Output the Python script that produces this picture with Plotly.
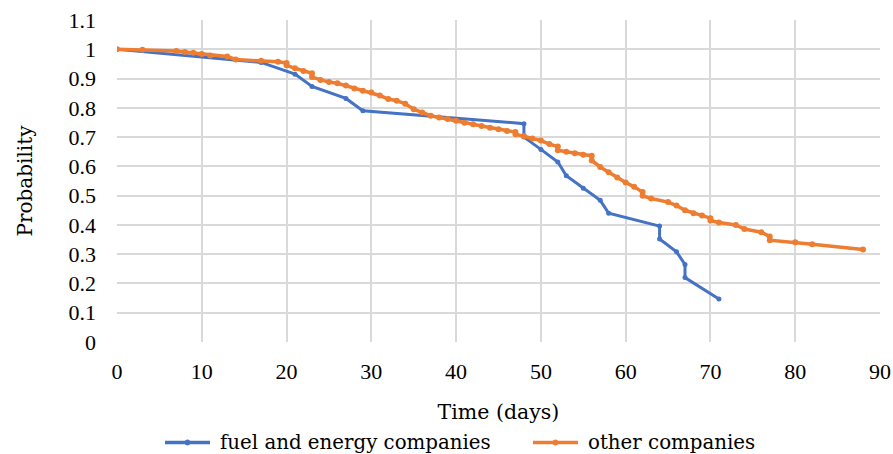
import plotly.graph_objects as go

# Data
fuel_days = [0, 17, 21, 23, 27, 29, 48, 48, 50, 52, 53, 55, 57, 58, 64, 64, 66, 67, 67, 71]
fuel_prob = [1.0, 0.955, 0.915, 0.873, 0.832, 0.79, 0.746, 0.70, 0.658, 0.615, 0.568, 0.525,
             0.484, 0.44, 0.396, 0.352, 0.308, 0.265, 0.22, 0.147]

other_days = [0, 3, 7, 8, 9, 10, 11, 13, 14, 17, 19, 20, 20, 21, 22, 23, 23, 24, 25, 26, 27,
              28, 29, 30, 31, 32, 33, 34, 35, 36, 37, 38, 39, 40, 41, 42, 43, 44, 45, 46, 47,
              47, 48, 49, 50, 51, 52, 52, 53, 54, 55, 56, 56, 57, 58, 59, 60, 61, 62, 62, 63,
              65, 66, 67, 68, 69, 70, 70, 71, 73, 74, 76, 77, 77, 80, 82, 88]
other_prob = [1.0, 0.998, 0.994, 0.991, 0.988, 0.984, 0.979, 0.975, 0.965, 0.961, 0.957, 0.953,
              0.945, 0.935, 0.926, 0.918, 0.905, 0.895, 0.888, 0.884, 0.876, 0.866, 0.858,
              0.852, 0.842, 0.830, 0.824, 0.814, 0.795, 0.784, 0.773, 0.767, 0.762, 0.756,
              0.749, 0.744, 0.738, 0.732, 0.727, 0.721, 0.717, 0.710, 0.704, 0.695, 0.688,
              0.676, 0.668, 0.655, 0.650, 0.645, 0.640, 0.636, 0.620, 0.598, 0.580, 0.562,
              0.545, 0.530, 0.512, 0.500, 0.490, 0.478, 0.466, 0.450, 0.440, 0.432, 0.423,
              0.415, 0.408, 0.400, 0.386, 0.375, 0.360, 0.348, 0.341, 0.334, 0.316]

series_names = ["fuel and energy companies", "other companies"]

x_ticks = [0, 10, 20, 30, 40, 50, 60, 70, 80, 90]
y_ticks = [0, 0.1, 0.2, 0.3, 0.4, 0.5, 0.6, 0.7, 0.8, 0.9, 1.0, 1.1]
y_tick_labels = ["0", "0.1", "0.2", "0.3", "0.4", "0.5", "0.6", "0.7", "0.8", "0.9", "1", "1.1"]

TICK_FONT = "Liberation Serif"
TEXT_FONT = "DejaVu Serif"
BLUE = "#4472C4"
ORANGE = "#ED7D31"
GRID = "#D9D9D9"
colors = [BLUE, ORANGE]

fig = go.Figure()
fig.add_trace(go.Scatter(
    x=fuel_days, y=fuel_prob, mode="lines+markers", name=series_names[0],
    line=dict(color=BLUE, width=3), marker=dict(color=BLUE, size=5, symbol="circle"),
    showlegend=False,
))
fig.add_trace(go.Scatter(
    x=other_days, y=other_prob, mode="lines+markers", name=series_names[1],
    line=dict(color=ORANGE, width=3.5), marker=dict(color=ORANGE, size=6, symbol="circle"),
    showlegend=False,
))

# Custom legend below the axis title (Excel-style: longer line with a dot)
legend_y = -0.312
legend_items = [
    dict(x0=0.0629, x1=0.1219, tx=0.1324),
    dict(x0=0.5452, x1=0.6042, tx=0.6147),
]
shapes = []
annotations = []
for name, col, it in zip(series_names, colors, legend_items):
    shapes.append(dict(type="line", xref="paper", yref="paper", x0=it["x0"], x1=it["x1"],
                       y0=legend_y, y1=legend_y, line=dict(color=col, width=3.5)))
    xm = (it["x0"] + it["x1"]) / 2
    shapes.append(dict(type="circle", xref="paper", yref="paper", xsizemode="pixel",
                       ysizemode="pixel", xanchor=xm, yanchor=legend_y,
                       x0=-2.5, x1=2.5, y0=-2.5, y1=2.5,
                       fillcolor=col, line=dict(color=col, width=1)))
    annotations.append(dict(text=name, xref="paper", yref="paper", x=it["tx"], y=legend_y,
                            xanchor="left", yanchor="middle", showarrow=False,
                            font=dict(family=TEXT_FONT, size=19.8, color="#000000")))

fig.update_layout(
    width=893, height=454,
    margin=dict(l=117, r=13, t=20, b=112, autoexpand=False),
    paper_bgcolor="white", plot_bgcolor="white",
    font=dict(family=TEXT_FONT, size=19, color="#000000"),
    showlegend=False,
    shapes=shapes,
    annotations=annotations,
)
fig.update_xaxes(
    range=[0, 90], tickvals=x_ticks, showgrid=True, gridcolor=GRID, gridwidth=1.5,
    zeroline=False, showline=False, ticks="", ticklabelstandoff=14,
    ticklabeloverflow="allow",
    tickfont=dict(family=TICK_FONT, size=22),
    title=dict(text="Time (days)", font=dict(family=TEXT_FONT, size=20.5), standoff=21),
)
fig.update_yaxes(
    range=[0, 1.1], tickvals=y_ticks, ticktext=y_tick_labels, showgrid=True,
    gridcolor=GRID, gridwidth=1.5, zeroline=False, showline=False, ticks="",
    ticklabelstandoff=20, ticklabeloverflow="allow",
    tickfont=dict(family=TICK_FONT, size=22),
    title=dict(text="Probability", font=dict(family=TEXT_FONT, size=20), standoff=30),
)

# remove the page's default body margin so the figure fills the window exactly
fig.write_html(
    "out.html",
    config={"displayModeBar": False},
    post_script="document.body.style.margin='0';document.body.style.overflow='hidden';",
)
